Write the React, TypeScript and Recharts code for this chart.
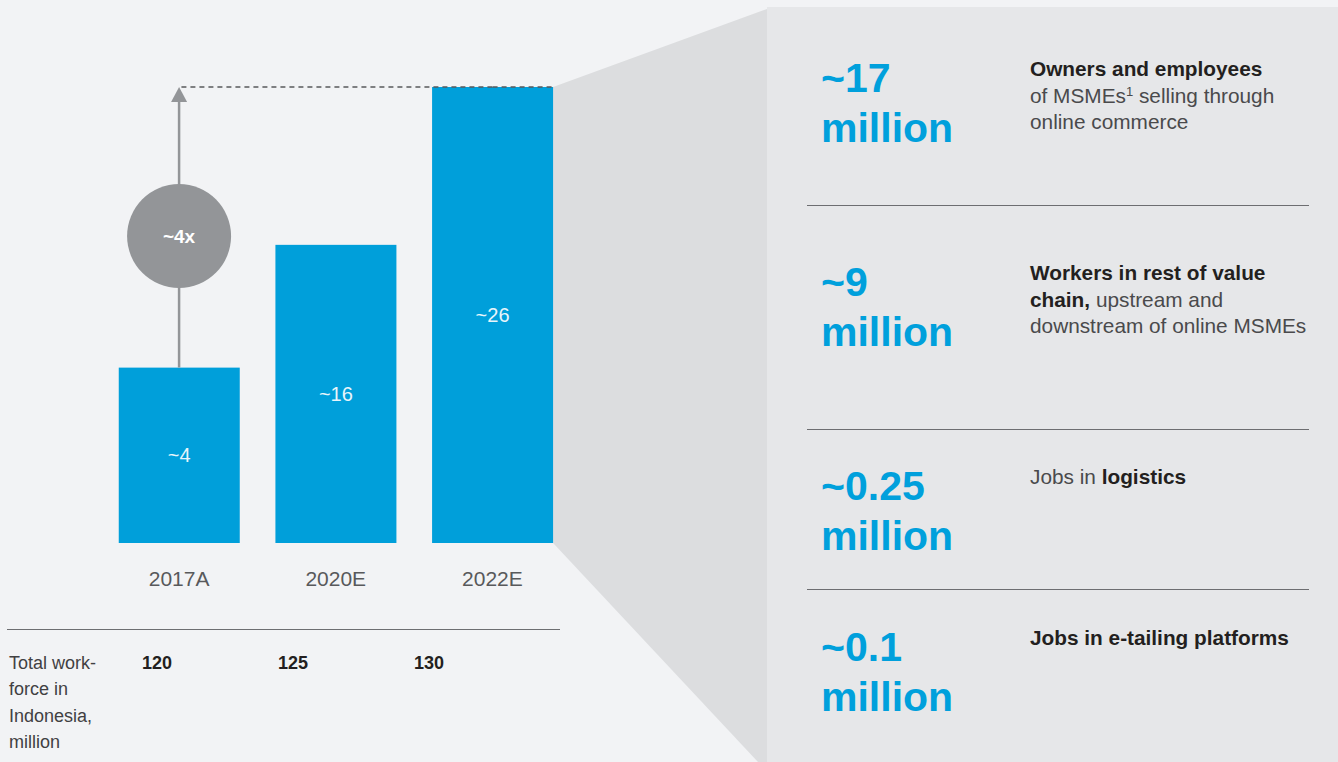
import React from "react";
import {
  BarChart,
  Bar,
  XAxis,
  YAxis,
  LabelList,
  ReferenceLine,
  ReferenceDot,
} from "recharts";

const years = ["2017A", "2020E", "2022E"];
// bar heights as drawn in the picture (not to scale with the labels)
const barHeights = [10, 17, 26];
const barLabels = ["~4", "~16", "~26"];
const workforce = [120, 125, 130];
const growthLabel = "~4x";
const growthMarkAt = 17.5;

const B = ({ children }: { children: React.ReactNode }) => (
  <b style={{ color: "#231f20" }}>{children}</b>
);

const bigNumbers = ["~17", "~9", "~0.25", "~0.1"];
const descriptions: React.ReactNode[] = [
  <>
    <B>Owners and employees</B>
    <br />
    of MSMEs<sup style={{ fontSize: 13, verticalAlign: "7px", lineHeight: 0 }}>1</sup> selling through
    <br />
    online commerce
  </>,
  <>
    <B>Workers in rest of value</B>
    <br />
    <B>chain,</B> upstream and
    <br />
    downstream of online MSMEs
  </>,
  <>
    Jobs in <B>logistics</B>
  </>,
  <>
    <B>Jobs in e-tailing platforms</B>
  </>,
];
const sectionTops = [53, 257, 461, 622];
const dividerTops = [205, 429, 589];

const data = years.map((year, i) => ({
  year,
  height: barHeights[i],
  label: barLabels[i],
}));

const BLUE = "#009fda";
const FONT = "'Liberation Sans', Arial, Helvetica, sans-serif";

function BarShape(props: any) {
  const { x, y, width, height, index } = props;
  const last = index === years.length - 1;
  return (
    <g>
      {last && (
        <polygon
          points={`${x + width},${y} 767,9 767,762 758,762 ${x + width},${y + height}`}
          fill="#dcdddf"
        />
      )}
      <rect x={x} y={y} width={width} height={height} fill={BLUE} />
      {last && (
        <line
          x1={x + width / 2}
          y1={y}
          x2={x + width}
          y2={y}
          stroke="#58595b"
          strokeWidth={1.5}
          strokeDasharray="5 4"
        />
      )}
    </g>
  );
}

function YearTick({ x, y, payload }: any) {
  return (
    <text x={x} y={y} dy={43} textAnchor="middle" fill="#58595b" fontSize={21} fontFamily={FONT}>
      {payload.value}
    </text>
  );
}

function ArrowHead({ cx, cy }: any) {
  return <polygon points={`${cx},${cy} ${cx - 8},${cy + 15} ${cx + 8},${cy + 15}`} fill="#939598" />;
}

export default function App() {
  return (
    <div
      style={{
        position: "absolute",
        left: 0,
        top: 0,
        width: 1338,
        height: 762,
        overflow: "hidden",
        background: "#f2f3f5",
        fontFamily: FONT,
      }}
    >
      {/* right panel */}
      <div
        style={{
          position: "absolute",
          left: 767,
          top: 7,
          width: 571,
          height: 755,
          background: "#e6e7e9",
        }}
      />
      {dividerTops.map((t) => (
        <div
          key={t}
          style={{ position: "absolute", left: 807, top: t, width: 502, borderTop: "1px solid #6d6e71" }}
        />
      ))}
      {bigNumbers.map((n, i) => (
        <React.Fragment key={n}>
          <div
            style={{
              position: "absolute",
              left: 821,
              top: sectionTops[i],
              fontSize: 41,
              lineHeight: "50px",
              fontWeight: 700,
              color: "#00a0dc",
            }}
          >
            {n}
            <br />
            million
          </div>
          <div
            style={{
              position: "absolute",
              left: 1030,
              top: sectionTops[i] + 3,
              fontSize: 20.8,
              lineHeight: "26.5px",
              color: "#4a4a4c",
              whiteSpace: "nowrap",
            }}
          >
            {descriptions[i]}
          </div>
        </React.Fragment>
      ))}

      {/* bar chart */}
      <div style={{ position: "absolute", left: 0, top: 0 }}>
        <BarChart
          width={1338}
          height={762}
          data={data}
          margin={{ top: 87, right: 767.25, bottom: 189, left: 100.75 }}
        >
          <XAxis
            dataKey="year"
            axisLine={false}
            tickLine={false}
            tickSize={0}
            tickMargin={0}
            tick={<YearTick />}
            interval={0}
          />
          <YAxis hide domain={[0, 26]} />
          <Bar dataKey="height" barSize={121} shape={<BarShape />} isAnimationActive={false}>
            <LabelList
              dataKey="label"
              position="center"
              fill="#e8f5fb"
              fontSize={20}
              fontFamily={FONT}
            />
          </Bar>
          <ReferenceLine
            segment={[
              { x: years[2], y: 26 },
              { x: years[0], y: 26 },
            ]}
            stroke="#58595b"
            strokeWidth={1.5}
            strokeDasharray="5 4"
          />
          <ReferenceLine
            segment={[
              { x: years[0], y: barHeights[0] },
              { x: years[0], y: 25.5 },
            ]}
            stroke="#939598"
            strokeWidth={2.5}
          />
          <ReferenceDot x={years[0]} y={26} r={8} shape={<ArrowHead />} />
          <ReferenceDot
            x={years[0]}
            y={growthMarkAt}
            r={52}
            fill="#939598"
            stroke="none"
            label={{ value: growthLabel, fill: "#fff", fontWeight: 700, fontSize: 19, fontFamily: FONT }}
          />
        </BarChart>
      </div>

      {/* total workforce row */}
      <div
        style={{ position: "absolute", left: 7, top: 629, width: 553, borderTop: "1.5px solid #6d6e71" }}
      />
      <div
        style={{
          position: "absolute",
          left: 9,
          top: 650,
          display: "flex",
          fontSize: 18,
          lineHeight: "26.3px",
          color: "#414042",
        }}
      >
        <div style={{ width: 133 }}>
          Total work-
          <br />
          force in
          <br />
          Indonesia,
          <br />
          million
        </div>
        {workforce.map((w) => (
          <div key={w} style={{ width: 136, fontWeight: 700, color: "#231f20" }}>
            {w}
          </div>
        ))}
      </div>
    </div>
  );
}
